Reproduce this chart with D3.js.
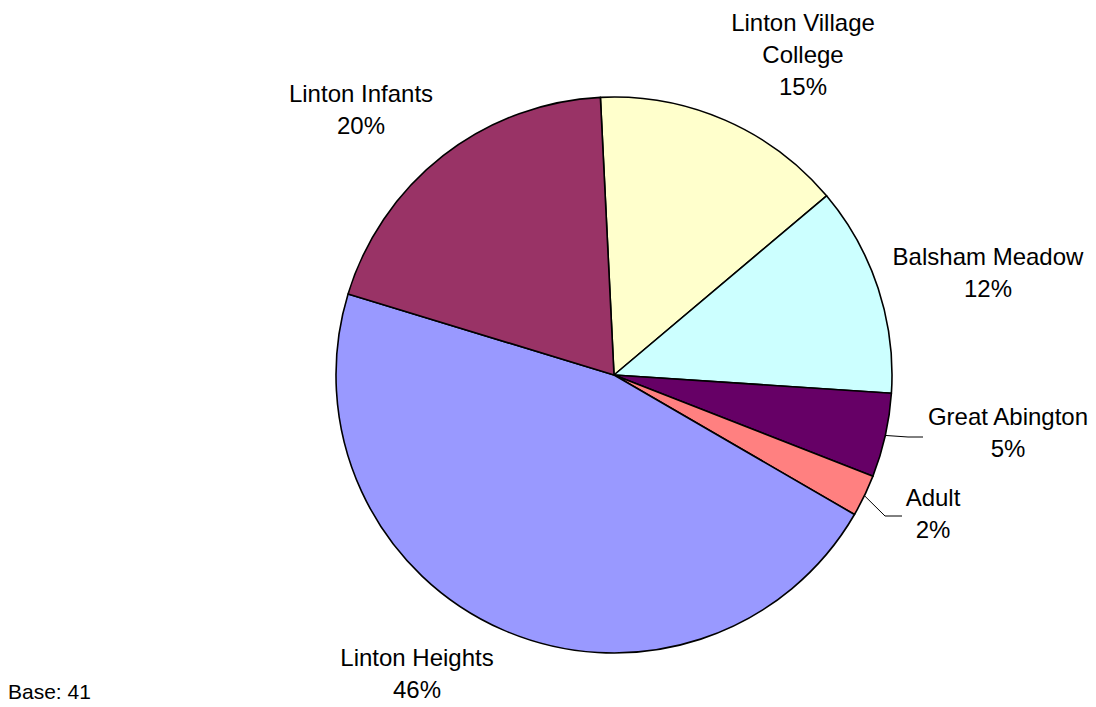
<!DOCTYPE html>
<html>
<head>
<meta charset="utf-8">
<script src="https://cdn.jsdelivr.net/npm/d3@7"></script>
<style>
  html, body { margin: 0; padding: 0; background: #fff; }
  svg { display: block; }
  text { font-family: "Liberation Sans", Arial, sans-serif; fill: #000; }
</style>
</head>
<body>
<svg id="chart" width="1096" height="707"></svg>
<script>
// ---- data ----
const categories = ["Linton Village College", "Balsham Meadow", "Great Abington", "Adult", "Linton Heights", "Linton Infants"];
const labelLines = [["Linton Village", "College"], ["Balsham Meadow"], ["Great Abington"], ["Adult"], ["Linton Heights"], ["Linton Infants"]];
const counts = [6, 5, 2, 1, 19, 8];
const baseCount = 41;
const colors = ["#FFFFCC", "#CCFFFF", "#660066", "#FF8080", "#9999FF", "#993366"];

// ---- layout ----
const W = 1096, H = 707;
const cx = 614, cy = 375, R = 278;
const startOffset = -0.049;
const fontSize = 24, lineH = 32;
// label anchor (center x, baseline of first line)
const labelPos = [
  [803, 31], [988, 265], [1008, 425], [933, 506], [417, 666], [361, 102]
];
// leader lines: [elbow x, elbow y, end x] for slices that have them
const leaders = {2: [908, 437, 923], 3: [885, 516, 902]};

const svg = d3.select("#chart");
const total = d3.sum(counts);

const pie = d3.pie().sort(null).value(d => d)
  .startAngle(startOffset).endAngle(startOffset + 2 * Math.PI);
const arcs = pie(counts);
const arc = d3.arc().innerRadius(0).outerRadius(R);

const g = svg.append("g").attr("transform", `translate(${cx},${cy})`);
g.selectAll("path.slice").data(arcs).join("path")
  .attr("class", "slice")
  .attr("d", arc)
  .attr("fill", (d, i) => colors[i])
  .attr("stroke", "#000")
  .attr("stroke-width", 1.6)
  .attr("stroke-linejoin", "round");

// leader lines
arcs.forEach((d, i) => {
  if (!leaders[i]) return;
  const a = (d.startAngle + d.endAngle) / 2;
  const x0 = cx + R * Math.sin(a), y0 = cy - R * Math.cos(a);
  const [ex, ey, endx] = leaders[i];
  svg.append("polyline")
    .attr("points", `${x0},${y0} ${ex},${ey} ${endx},${ey}`)
    .attr("fill", "none").attr("stroke", "#000").attr("stroke-width", 1);
});

// labels
arcs.forEach((d, i) => {
  const [lx, ly] = labelPos[i];
  const lines = labelLines[i].concat([Math.round(counts[i] / total * 100) + "%"]);
  const t = svg.append("text")
    .attr("text-anchor", "middle")
    .attr("font-size", fontSize);
  lines.forEach((s, k) => {
    t.append("tspan").attr("x", lx).attr("y", ly + k * lineH).text(s);
  });
});

svg.append("text")
  .attr("x", 8).attr("y", 699)
  .attr("font-size", 21)
  .text("Base: " + baseCount);
</script>
</body>
</html>
